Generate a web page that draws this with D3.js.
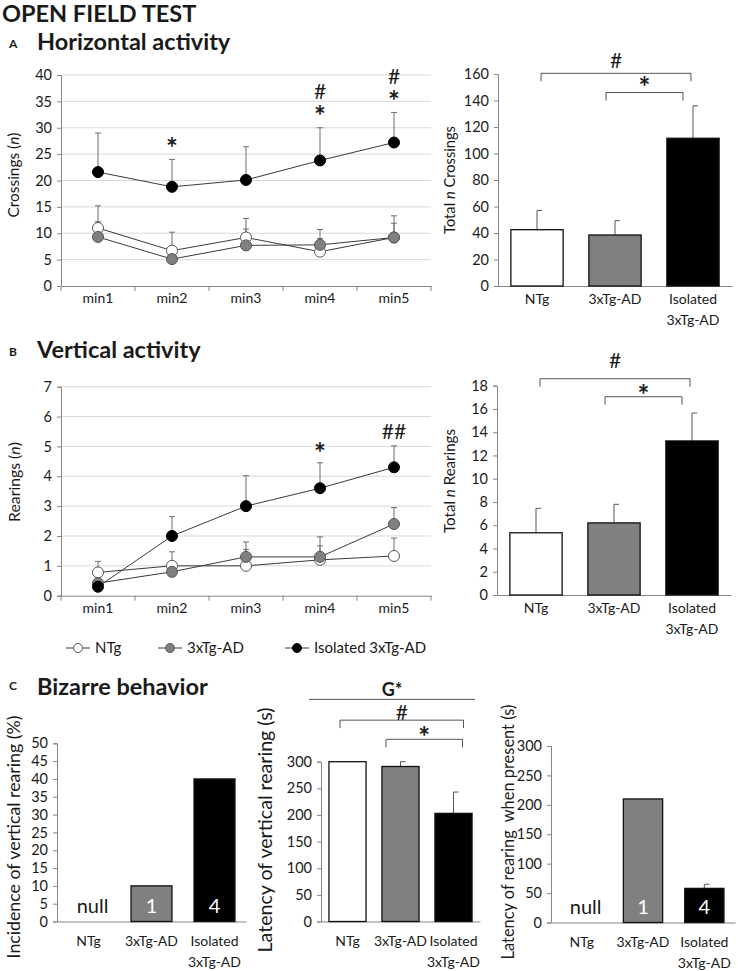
<!DOCTYPE html>
<html><head><meta charset="utf-8">
<script src="https://cdn.jsdelivr.net/npm/d3@7"></script>
<style>
body{margin:0;background:#fff}
svg text{font-family:Lato,"Liberation Sans",sans-serif;fill:#1a1a1a}
</style>
</head><body>
<svg id="c" width="738" height="971"></svg>
<script>
// ---------- DATA ----------
const minutes = ["min1","min2","min3","min4","min5"];
const groups = ["NTg","3xTg-AD","Isolated 3xTg-AD"];
const groupLabels = [["NTg"],["3xTg-AD"],["Isolated","3xTg-AD"]];
const groupFills = ["#ffffff","#808080","#000000"];

const crossNTg = [11.0, 6.7, 9.2, 6.5, 9.2];
const crossNTgSem = [4.2, 3.5, 3.6, 2.5, 4.1];
const crossTg = [9.3, 5.1, 7.7, 7.8, 9.2];
const crossTgSem = [2.9, 1.4, 3.1, 2.9, 2.7];
const crossIso = [21.6, 18.8, 20.1, 23.8, 27.2];
const crossIsoSem = [7.4, 5.2, 6.3, 6.2, 5.7];
const crossSig = [[], ["*"], [], ["*","#"], ["*","#"]];

const rearNTg = [0.78, 1.0, 1.0, 1.2, 1.33];
const rearNTgSem = [0.37, 0.47, 0.55, 0.47, 0.6];
const rearTg = [0.42, 0.8, 1.3, 1.3, 2.4];
const rearTgSem = [0.2, 0.3, 0.5, 0.67, 0.55];
const rearIso = [0.3, 2.0, 3.0, 3.6, 4.3];
const rearIsoSem = [0.1, 0.65, 1.02, 0.85, 0.72];
const rearSig = [[], [], [], ["*"], ["##"]];

const totalCross = [42.5, 38.5, 111.5];
const totalCrossSem = [14.5, 10.8, 24.5];
const totalRear = [5.35, 6.2, 13.25];
const totalRearSem = [2.1, 1.6, 2.4];
const incidence = [0, 10, 40];
const latency = [300, 291, 203];
const latencySem = [0, 9, 40];
const latencyPresent = [0, 210, 58];
const latencyPresentSem = [0, 0, 7];
const nLabels = ["null", "1", "4"];

const crossTicks = [0,5,10,15,20,25,30,35,40];
const rearTicks = [0,1,2,3,4,5,6,7];
const totalCrossTicks = [0,20,40,60,80,100,120,140,160];
const totalRearTicks = [0,2,4,6,8,10,12,14,16,18];
const incidenceTicks = [0,5,10,15,20,25,30,35,40,45,50];
const latencyTicks = [0,50,100,150,200,250,300];

// ---------- DRAWING ----------
const svg = d3.select("#c");
const AXIS = "#868686";
const FS = 14;
const TFS = 14.5;

function title(x, y, txt, size, letter, ly){
  svg.append("text").attr("x",x).attr("y",y).attr("font-size",size).attr("font-weight",700).text(txt);
  if(letter) svg.append("text").attr("x",9).attr("y",ly).attr("font-size",12).attr("font-weight",700).text(letter);
}

function yLabel(cx, cy, parts, len){
  const t = svg.append("text").attr("transform",`translate(${cx},${cy}) rotate(-90)`)
    .attr("text-anchor","middle").attr("dominant-baseline","central").attr("font-size",16);
  parts.forEach(p=>t.append("tspan").attr("font-style",p[1]?"italic":"normal").text(p[0]));
  const w = t.node().getComputedTextLength();
  if(w>0) t.attr("font-size", 16*len/w);
}

function yAxis(g, y, left, ticks){
  const a = g.append("g").attr("transform",`translate(${left},0)`)
    .call(d3.axisLeft(y).tickValues(ticks).tickSize(4).tickPadding(5).tickFormat(d3.format("d")));
  a.selectAll("path,line").attr("stroke",AXIS);
  a.selectAll("text").attr("font-size",TFS).attr("fill","#1a1a1a");
  return a;
}

function catLabels(g, x, yb, labels){
  labels.forEach((ls,i)=>{
    ls.forEach((l,j)=>{
      g.append("text").attr("x",x(x.domain()[i])+x.bandwidth()/2).attr("y",yb+j*21)
        .attr("text-anchor","middle").attr("font-size",FS).text(l);
    });
  });
}

function sigText(g, cx, cy, s){
  const star = s.indexOf("*")>=0;
  const size = star?28:21;
  g.append("text").attr("x",cx).attr("y",cy+(star?0.52:0.36)*size)
    .attr("text-anchor","middle").attr("font-size",size).attr("font-weight",star?700:400).text(s);
}

function sigStack(g, cx, cyBottom, marks){
  if(marks.length===1){ sigText(g, cx, cyBottom, marks[0]); return; }
  const t = g.append("text").attr("text-anchor","middle");
  let cy = cyBottom - 20*(marks.length-1);
  marks.slice().reverse().forEach(m=>{
    const star = m.indexOf("*")>=0, size = star?28:21;
    t.append("tspan").attr("x",cx).attr("y",cy+(star?0.52:0.36)*size)
      .attr("font-size",size).attr("font-weight",star?700:400).text(m);
    cy += 20;
  });
}

function lineChart(o){
  const g = svg.append("g");
  const x = d3.scaleBand().domain(minutes).range([o.left,o.right]);
  const y = d3.scaleLinear().domain([0,d3.max(o.ticks)]).range([o.bottom,o.top]);
  const cx = d => x(d)+x.bandwidth()/2;
  g.selectAll("line.grid").data(o.ticks.filter(t=>t>0)).join("line")
    .attr("x1",o.left).attr("x2",o.right).attr("y1",d=>y(d)).attr("y2",d=>y(d))
    .attr("stroke","#d9d9d9").attr("stroke-width",1);
  yAxis(g, y, o.left, o.ticks);
  const xa = g.append("g").attr("transform",`translate(0,${o.bottom})`)
    .call(d3.axisBottom(x).tickSize(0).tickFormat(""));
  xa.select("path").attr("stroke",AXIS);
  g.selectAll("line.bt").data(minutes.concat(["end"])).join("line")
    .attr("x1",(d,i)=>o.left+i*x.step()).attr("x2",(d,i)=>o.left+i*x.step())
    .attr("y1",o.bottom).attr("y2",o.bottom+5).attr("stroke",AXIS);
  catLabels(g, x, o.bottom+17, minutes.map(m=>[m]));
  o.series.forEach(s=>{
    s.mean.forEach((m,i)=>{
      const x0 = cx(minutes[i]), y1 = y(m+s.sem[i]);
      g.append("line").attr("x1",x0).attr("x2",x0).attr("y1",y(m)).attr("y2",y1).attr("stroke","#6e6e6e");
      g.append("line").attr("x1",x0-3).attr("x2",x0+3).attr("y1",y1).attr("y2",y1).attr("stroke","#6e6e6e");
    });
  });
  const line = d3.line().x((d,i)=>cx(minutes[i])).y(d=>y(d));
  o.series.forEach(s=>{
    g.append("path").attr("d",line(s.mean)).attr("fill","none").attr("stroke","#3a3a3a").attr("stroke-width",1);
  });
  o.series.forEach(s=>{
    g.selectAll(null).data(s.mean).join("circle")
      .attr("cx",(d,i)=>cx(minutes[i])).attr("cy",d=>y(d)).attr("r",5.5)
      .attr("fill",s.fill).attr("stroke",s.fill==="#000000"?"#000":"#555").attr("stroke-width",1);
  });
  const iso = o.series[2];
  o.sig.forEach((marks,i)=>{
    if(!marks.length) return;
    sigStack(g, cx(minutes[i]), y(iso.mean[i]+iso.sem[i]) - o.sigGap, marks);
  });
  return {x,y};
}

function barChart(o){
  const g = svg.append("g");
  const x = d3.scaleBand().domain(groups).range([o.left,o.right]).paddingInner(o.pad).paddingOuter(o.pad/2);
  const y = d3.scaleLinear().domain([0,d3.max(o.ticks)]).range([o.bottom,o.top]);
  const cx = i => x(groups[i])+x.bandwidth()/2;
  yAxis(g, y, o.left, o.ticks);
  const xa = g.append("g").attr("transform",`translate(0,${o.bottom})`)
    .call(d3.axisBottom(x).tickSize(0).tickFormat(""));
  xa.select("path").attr("stroke",AXIS);
  catLabels(g, x, o.bottom+o.labelOff, groupLabels);
  o.values.forEach((v,i)=>{
    if(o.sem && o.sem[i]>0){
      const y1 = y(v+o.sem[i]);
      g.append("line").attr("x1",cx(i)).attr("x2",cx(i)).attr("y1",y(v)).attr("y2",y1).attr("stroke","#555");
      g.append("line").attr("x1",cx(i)).attr("x2",cx(i)+5).attr("y1",y1).attr("y2",y1).attr("stroke","#555");
    }
  });
  g.selectAll("rect.bar").data(o.values).join("rect")
    .attr("x",(d,i)=>x(groups[i])).attr("width",x.bandwidth())
    .attr("y",d=>y(d)).attr("height",d=>o.bottom-y(d))
    .attr("fill",(d,i)=>groupFills[i]).attr("stroke","#111").attr("stroke-width",1.3)
    .attr("display",d=>d>0?null:"none");
  if(o.nLabels){
    o.nLabels.forEach((t,i)=>{
      g.append("text").attr("x",cx(i)+(i===0?4:0)).attr("y",o.bottom-9).attr("text-anchor","middle")
        .attr("font-size",20).style("fill",i===0?"#1a1a1a":"#ffffff").text(t);
    });
  }
  (o.brackets||[]).forEach(b=>{
    const x1 = cx(b.from)+b.dx1, x2 = cx(b.to)+b.dx2, yy = y(b.y);
    g.append("path").attr("d",`M${x1},${yy+8}V${yy}H${x2}V${yy+8}`).attr("fill","none").attr("stroke","#555");
    sigText(g, (x1+x2)/2, yy-b.ty, b.mark);
  });
  return {x,y,g};
}

// Titles
title(2, 22, "OPEN FIELD TEST", 23.5, null);
title(37, 50, "Horizontal activity", 23.5, "A", 48);
title(37, 358, "Vertical activity", 23.5, "B", 356);
title(37, 695, "Bizarre behavior", 23.5, "C", 690);

// Panel A
lineChart({left:61,right:431,top:75,bottom:286,ticks:crossTicks,sigGap:16,
  series:[{mean:crossNTg,sem:crossNTgSem,fill:groupFills[0]},
          {mean:crossTg,sem:crossTgSem,fill:groupFills[1]},
          {mean:crossIso,sem:crossIsoSem,fill:groupFills[2]}],
  sig:crossSig});
yLabel(13,175,[["Crossings ("],["n",true],[")"]],85);

barChart({left:498,right:732,top:74,bottom:286,ticks:totalCrossTicks,pad:0.33,labelOff:18,
  values:totalCross,sem:totalCrossSem,
  brackets:[{from:0,to:2,y:160.5,dx1:4,dx2:-2,mark:"#",ty:13},
            {from:1,to:2,y:146,dx1:-9,dx2:-10,mark:"*",ty:10}]});
yLabel(449,180,[["Total "],["n",true],[" Crossings"]],108);

// Panel B
lineChart({left:61,right:431,top:386.7,bottom:595.7,ticks:rearTicks,sigGap:14,
  series:[{mean:rearNTg,sem:rearNTgSem,fill:groupFills[0]},
          {mean:rearTg,sem:rearTgSem,fill:groupFills[1]},
          {mean:rearIso,sem:rearIsoSem,fill:groupFills[2]}],
  sig:rearSig});
yLabel(13,482,[["Rearings ("],["n",true],[")"]],80);

barChart({left:497,right:731,top:385.7,bottom:595,ticks:totalRearTicks,pad:0.33,labelOff:18,
  values:totalRear,sem:totalRearSem,
  brackets:[{from:0,to:2,y:18.6,dx1:4,dx2:-2,mark:"#",ty:18},
            {from:1,to:2,y:17.05,dx1:-9,dx2:-10,mark:"*",ty:6}]});
yLabel(449,481,[["Total "],["n",true],[" Rearings"]],104);

// Legend
const legendX = [78,170,297];
groups.forEach((gname,i)=>{
  const lx = legendX[i], ly = 648;
  svg.append("line").attr("x1",lx-12).attr("x2",lx+12).attr("y1",ly).attr("y2",ly).attr("stroke","#3a3a3a");
  svg.append("circle").attr("cx",lx).attr("cy",ly).attr("r",4.5).attr("fill",groupFills[i])
    .attr("stroke",i===2?"#000":"#555");
  svg.append("text").attr("x",lx+17).attr("y",ly+5).attr("font-size",15).text(gname);
});

// Panel C
barChart({left:57,right:246,top:743.3,bottom:921.5,ticks:incidenceTicks,pad:0.35,labelOff:24,
  values:incidence,nLabels:nLabels});
yLabel(13,837,[["Incidence of vertical rearing (%)"]],243);

const c2 = barChart({left:321,right:480,top:761.7,bottom:921.5,ticks:latencyTicks,pad:0.3,labelOff:24,
  values:latency,sem:latencySem,
  brackets:[{from:0,to:2,y:378,dx1:-7.5,dx2:10,mark:"#",ty:8},
            {from:1,to:2,y:342,dx1:-14.5,dx2:9,mark:"*",ty:7}]});
c2.g.append("line").attr("x1",309).attr("x2",475).attr("y1",c2.y(417)).attr("y2",c2.y(417)).attr("stroke","#555");
c2.g.append("text").attr("x",392).attr("y",c2.y(417)-3).attr("text-anchor","middle").attr("font-size",18)
  .attr("font-weight",700).text("G*");
yLabel(264,830,[["Latency of vertical rearing (s)"]],245);

barChart({left:551,right:735,top:746,bottom:922.5,ticks:latencyTicks,pad:0.36,labelOff:24,
  values:latencyPresent,sem:latencyPresentSem,nLabels:nLabels});
yLabel(507,832,[["Latency of rearing \u00a0when present (s)"]],255);
</script>
</body></html>
